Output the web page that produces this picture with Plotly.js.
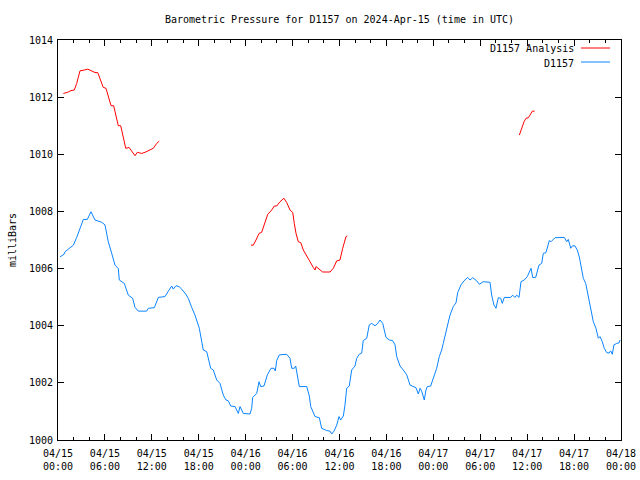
<!DOCTYPE html>
<html>
<head>
<meta charset="utf-8">
<script src="https://cdn.plot.ly/plotly-3.0.1.min.js"></script>
<style>html,body{margin:0;padding:0;background:#fff;}#chart{width:640px;height:480px;}</style>
</head>
<body>
<div id="chart"></div>
<script>
// Hours since 2024-04-15 00:00 UTC
const stationHours = [0.26,0.77,0.90,1.53,1.96,2.39,2.81,3.24,3.75,4.22,4.73,5.59,6.01,6.43,6.87,7.29,7.71,7.84,8.48,8.99,9.55,9.85,10.27,11.34,11.55,12.32,12.83,13.68,14.11,14.54,14.75,15.09,15.47,15.82,16.33,16.66,17.10,17.52,18.07,18.38,18.58,19.02,19.22,19.53,19.86,20.30,20.72,21.14,21.49,21.78,22.09,22.64,23.06,23.28,23.70,24.55,24.77,24.90,25.41,25.71,25.92,26.34,26.77,27.24,27.62,27.79,27.97,28.30,29.25,29.67,29.89,30.22,30.40,30.60,30.86,31.81,32.14,32.32,32.87,33.42,33.72,34.36,34.79,35.00,35.30,35.64,35.94,36.15,36.49,36.70,36.92,37.25,37.56,37.98,38.20,38.53,38.84,39.04,39.48,39.81,40.12,40.54,40.83,41.18,41.53,41.95,42.37,42.80,43.10,43.32,43.74,44.16,44.60,45.02,45.36,45.78,46.08,46.30,46.51,46.84,47.06,47.23,47.66,48.00,48.43,48.76,49.07,49.27,49.71,50.13,50.55,50.90,51.12,51.54,51.92,52.40,52.69,53.04,53.55,53.88,54.39,55.25,55.46,55.76,56.01,56.31,56.61,56.82,57.07,57.89,58.15,58.44,58.66,58.96,59.21,59.63,60.02,60.27,60.49,60.71,61.09,61.51,61.86,62.06,62.41,62.83,63.05,63.56,64.20,64.75,65.06,65.26,65.57,65.82,66.12,66.41,66.67,66.97,67.18,67.49,67.82,68.17,68.46,68.80,69.10,69.31,69.61,69.86,70.17,70.47,70.68,70.89,71.10,71.45,71.74,71.87];
const stationPressure = [1006.41,1006.50,1006.59,1006.71,1006.82,1007.09,1007.41,1007.72,1007.72,1007.99,1007.70,1007.62,1007.53,1006.94,1006.53,1006.12,1006.00,1005.60,1005.48,1005.07,1004.96,1004.64,1004.51,1004.51,1004.61,1004.63,1004.99,1005.02,1005.21,1005.39,1005.28,1005.40,1005.37,1005.28,1005.11,1004.96,1004.64,1004.37,1003.91,1003.50,1003.15,1003.09,1002.89,1002.51,1002.45,1002.10,1001.98,1001.57,1001.40,1001.37,1001.19,1001.17,1000.93,1001.17,1000.93,1000.91,1001.11,1001.49,1001.63,1002.04,1001.87,1001.89,1002.28,1002.51,1002.51,1002.42,1002.78,1002.98,1003.00,1002.86,1002.51,1002.51,1002.59,1002.21,1001.87,1001.87,1001.54,1001.17,1000.82,1000.78,1000.41,1000.33,1000.31,1000.21,1000.31,1000.52,1000.82,1000.70,1000.84,1001.22,1001.81,1001.89,1002.45,1002.59,1002.86,1003.00,1003.04,1003.48,1003.56,1004.03,1004.08,1004.00,1004.06,1004.20,1004.08,1003.59,1003.50,1003.48,1003.33,1002.92,1002.59,1002.45,1002.28,1001.92,1001.87,1001.83,1001.61,1001.81,1001.71,1001.40,1001.75,1001.87,1001.89,1002.19,1002.51,1002.92,1003.15,1003.38,1003.85,1004.37,1004.67,1004.80,1005.16,1005.43,1005.57,1005.69,1005.60,1005.68,1005.57,1005.45,1005.54,1005.52,1005.07,1004.72,1004.61,1004.98,1004.96,1004.78,1004.99,1004.99,1005.07,1004.99,1005.07,1004.99,1005.54,1005.60,1005.72,1005.86,1006.01,1005.69,1005.69,1006.12,1006.18,1006.53,1006.56,1006.98,1006.94,1007.08,1007.09,1007.09,1006.94,1007.02,1006.71,1006.80,1006.79,1006.65,1006.41,1005.95,1005.66,1005.48,1005.02,1004.55,1004.14,1003.91,1003.56,1003.62,1003.44,1003.21,1003.06,1003.04,1003.12,1003.00,1003.33,1003.38,1003.40,1003.50];

const analysisHours = [0.68,1.24,1.66,2.08,2.39,2.81,3.36,3.80,4.22,4.73,5.08,5.50,5.79,6.14,6.43,6.78,7.12,7.38,7.71,8.02,8.35,8.66,9.08,9.50,9.85,10.14,10.70,11.13,11.77,12.19,12.62,12.95,
  null,
  24.68,24.98,25.32,25.71,26.05,26.47,26.82,27.33,27.66,27.97,28.39,28.90,29.25,29.67,30.02,30.22,30.44,30.73,31.04,31.37,31.81,32.23,32.65,32.87,33.00,33.51,33.85,34.79,35.21,35.64,36.06,36.41,36.83,37.00,
  null,
  59.00,59.30,59.60,59.85,60.15,60.45,60.66,60.96];
const analysisPressure = [1012.13,1012.17,1012.23,1012.25,1012.48,1012.92,1012.95,1012.98,1012.93,1012.86,1012.86,1012.54,1012.34,1012.31,1012.02,1011.70,1011.70,1011.38,1011.00,1011.00,1010.62,1010.21,1010.24,1010.09,1009.95,1010.07,1010.03,1010.07,1010.17,1010.21,1010.38,1010.46,
  null,
  1006.82,1006.82,1007.00,1007.23,1007.27,1007.61,1007.90,1008.05,1008.19,1008.19,1008.34,1008.46,1008.31,1008.05,1007.96,1007.58,1007.23,1006.94,1006.91,1006.65,1006.42,1006.24,1006.04,1005.95,1006.07,1005.97,1005.88,1005.88,1006.01,1006.27,1006.30,1006.71,1007.12,1007.14,
  null,
  1010.67,1010.94,1011.14,1011.26,1011.28,1011.41,1011.51,1011.51];

const seriesNames = ["D1157 Analysis", "D1157"];
const titleText = "Barometric Pressure for D1157 on 2024-Apr-15 (time in UTC)";
const yTitle = "milliBars";

const START = Date.UTC(2024, 3, 15, 0, 0);
const toDate = h => h === null ? null : new Date(START + h * 3600000).toISOString();

const FONT = {family: "DejaVu Sans Mono, Liberation Mono, monospace", size: 10, color: "#000"};
const RED = "#ff0000", BLUE = "#0a84ff";

const traces = [
  {x: analysisHours.map(toDate), y: analysisPressure, type: "scatter", mode: "lines",
   name: seriesNames[0], line: {color: RED, width: 1}, connectgaps: false, showlegend: false},
  {x: stationHours.map(toDate), y: stationPressure, type: "scatter", mode: "lines",
   name: seriesNames[1], line: {color: BLUE, width: 1, shape: "linear"}, showlegend: false}
];

const layout = {
  width: 640, height: 480,
  margin: {l: 58, r: 19, t: 40, b: 40, pad: 0},
  paper_bgcolor: "#fff", plot_bgcolor: "#fff",
  font: FONT,
  title: {text: titleText, font: FONT, xref: "paper", x: 0.5, xanchor: "center", y: 1 - 19/480, yanchor: "middle"},
  showlegend: false,
  xaxis: {
    type: "date",
    range: [toDate(0), toDate(72)],
    tick0: toDate(0), dtick: 6 * 3600000,
    tickformat: "%m/%d<br>%H:%M",
    ticks: "inside", ticklen: 6, tickwidth: 1, tickcolor: "#000",
    ticklabelstandoff: 4,
    minor: {dtick: 2 * 3600000, ticks: "inside", ticklen: 3, tickwidth: 1, tickcolor: "#000", showgrid: false},
    showline: true, linecolor: "#000", linewidth: 1, mirror: "ticks",
    showgrid: false, zeroline: false, tickfont: FONT, fixedrange: true
  },
  yaxis: {
    range: [1000, 1014], dtick: 2, tick0: 1000,
    ticks: "inside", ticklen: 6, tickwidth: 1, tickcolor: "#000",
    ticklabelstandoff: 2,
    showline: true, linecolor: "#000", linewidth: 1, mirror: "ticks",
    showgrid: false, zeroline: false, tickfont: FONT,
    title: {text: yTitle, font: FONT, standoff: 10}, fixedrange: true
  },
  annotations: [
    {xref: "paper", yref: "paper", x: (576 - 58) / 563, y: (440 - 49) / 400, xanchor: "right", yanchor: "middle",
     text: seriesNames[0], showarrow: false, font: FONT},
    {xref: "paper", yref: "paper", x: (576 - 58) / 563, y: (440 - 63) / 400, xanchor: "right", yanchor: "middle",
     text: seriesNames[1], showarrow: false, font: FONT}
  ],
  shapes: [
    {type: "line", xref: "paper", yref: "paper", x0: (581 - 58) / 563, x1: (610 - 58) / 563,
     y0: (440 - 48) / 400, y1: (440 - 48) / 400, line: {color: RED, width: 1}},
    {type: "line", xref: "paper", yref: "paper", x0: (581 - 58) / 563, x1: (610 - 58) / 563,
     y0: (440 - 62) / 400, y1: (440 - 62) / 400, line: {color: BLUE, width: 1}}
  ]
};

Plotly.newPlot("chart", traces, layout, {staticPlot: true, displayModeBar: false});
</script>
</body>
</html>
